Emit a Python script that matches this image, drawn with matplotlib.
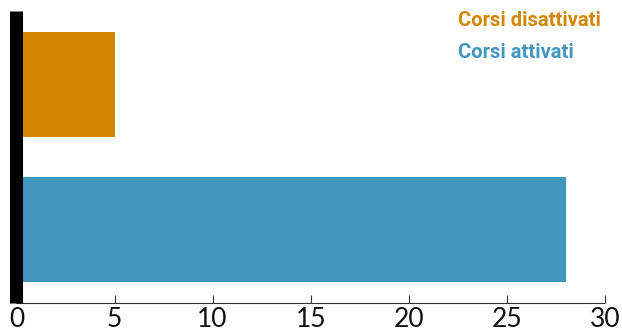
import matplotlib
matplotlib.use("Agg")
from matplotlib import pyplot as plt

categories = ["Corsi attivati", "Corsi disattivati"]
values = [28, 5]
colors = ["#4196BE", "#D38600"]
x_ticks = [0, 5, 10, 15, 20, 25, 30]

fig = plt.figure(figsize=(6.22, 3.28), dpi=100)
ax = fig.add_axes([0.0265, 0.0771, 0.946, 0.889])

positions = list(range(len(categories)))
ax.barh(positions, values, height=0.72, color=colors, zorder=2)

ax.set_xlim(0, 30)
ax.set_ylim(-0.5, 1.5)
ax.set_xticks(x_ticks)
ax.set_xticklabels([str(t) for t in x_ticks], fontsize=19, family=["Lato", "DejaVu Sans"],
                   color="#111111")
ax.set_yticks([])

for side in ("top", "right"):
    ax.spines[side].set_visible(False)
ax.spines["left"].set_linewidth(9.4)
ax.spines["left"].set_color("black")
ax.spines["left"].set_capstyle("butt")
ax.spines["left"].set_zorder(3)
ax.spines["bottom"].set_linewidth(0.8)
ax.spines["bottom"].set_color("#333333")
ax.spines["bottom"].set_capstyle("butt")
ax.tick_params(axis="x", direction="in", length=5.5, width=0.8, color="#333333", pad=3)

# legend as coloured labels in the top-right corner
for i, (name, color) in enumerate(zip(categories[::-1], colors[::-1])):
    fig.text(458 / 622, 1 - (21 + 32 * i) / 328, name, color=color, fontsize=14.5,
             fontweight="bold", family=["Roboto", "DejaVu Sans"],
             ha="left", va="center")

fig.savefig("out.png", dpi=100)
